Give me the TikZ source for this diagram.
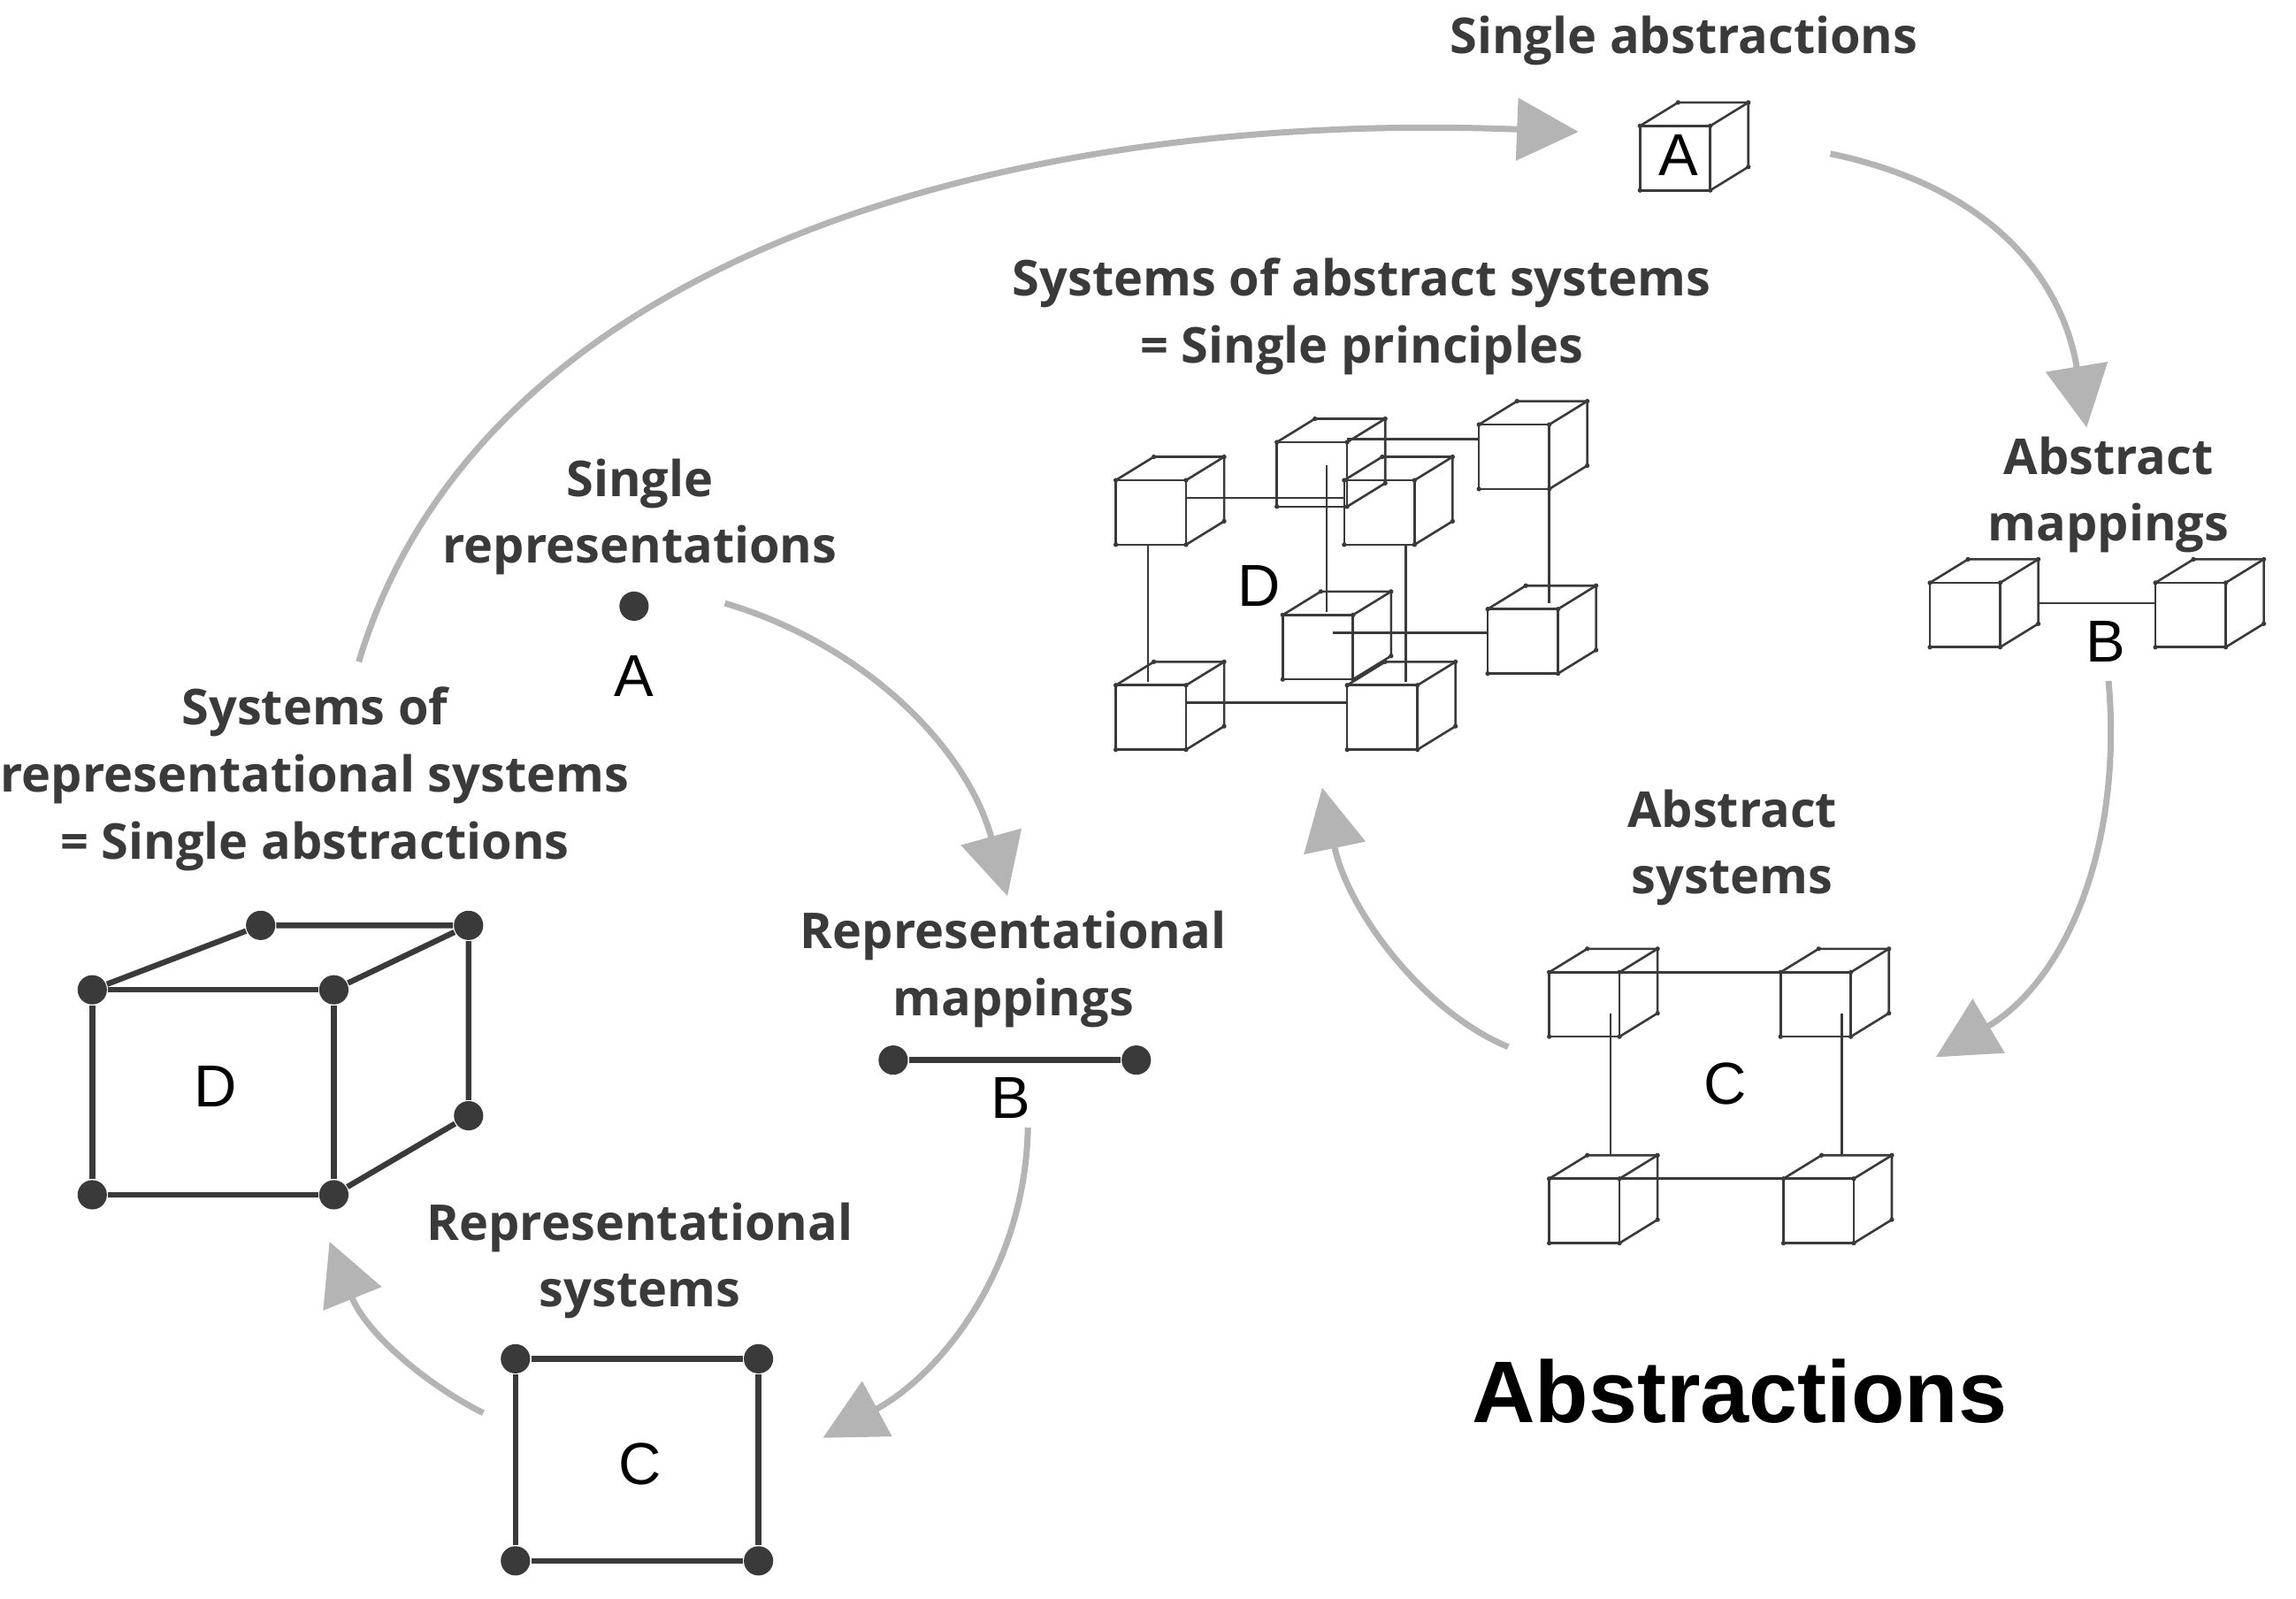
\documentclass[tikz,border=0pt]{standalone}
\usepackage{fontspec}
\setmainfont{Open Sans}
\newfontfamily\letterfont{Liberation Sans}
\usetikzlibrary{arrows.meta}
\definecolor{arr}{HTML}{B4B4B4}
\definecolor{ink}{HTML}{3A3A3A}
\begin{document}
\begin{tikzpicture}[x=0.01cm,y=-0.01cm,
  lbl/.style={font=\bfseries\fontsize{9.6}{13}\selectfont,align=center,text=ink,inner sep=0},
  let/.style={font=\letterfont\fontsize{11.5}{13}\selectfont,inner sep=0},
  big/.style={line width=1.1pt,ink},
  dot/.style={circle,fill=ink,inner sep=0,minimum size=0.2cm},
  thin/.style={line width=0.45pt,ink},
  flow/.style={arr,line width=1.2pt,-{Triangle[length=0.42cm,width=0.42cm]}},
  cube/.pic={
    \draw[thin] (0,0) rectangle (48,44);
    \draw[thin] (0,0)--(26,-16)--(74,-16)--(74,28)--(48,44);
    \draw[thin] (48,0)--(74,-16);
    \foreach \p in {(0,0),(48,0),(48,44),(0,44),(26,-16),(74,-16),(74,28)}
      \fill[ink] \p circle (1.6);
  }]
\useasboundingbox (0,0) rectangle (1568,1092);
% ---------- left: representations
\node[lbl] (t1) at (437,353) {Single\\representations};
\node[dot] (a1) at (433,414) {};
\node[let] (A1) at (433,462) {A};
\node[lbl] (t2) at (692,662) {Representational\\mappings};
\node[dot] (b1) at (610,724) {};
\node[dot] (b2) at (776,724) {};
\draw[big] (b1)--(b2);
\node[let] (B1) at (690,750) {B};
\node[lbl] (t3) at (437,861) {Representational\\systems};
\node[dot] (c1) at (352,928) {};
\node[dot] (c2) at (518,928) {};
\node[dot] (c3) at (518,1066) {};
\node[dot] (c4) at (352,1066) {};
\draw[big] (c1)--(c2)--(c3)--(c4)--(c1);
\node[let] (C1) at (437,1000) {C};
\node[lbl] (t4) at (215,532) {Systems of\\representational systems\\= Single abstractions};
\node[dot] (d1) at (63,676) {};
\node[dot] (d2) at (228,676) {};
\node[dot] (d3) at (228,816) {};
\node[dot] (d4) at (63,816) {};
\node[dot] (d5) at (178,632) {};
\node[dot] (d6) at (320,632) {};
\node[dot] (d7) at (320,762) {};
\draw[big] (d1)--(d2)--(d3)--(d4)--(d1);
\draw[big] (d1)--(d5)--(d6)--(d7)--(d3);
\draw[big] (d2)--(d6);
\node[let] (D1) at (147,742) {D};
% ---------- right: abstractions
\node[lbl] (s1) at (1150,28) {Single abstractions};
\pic at (1120,86) {cube};
\node[let] (A2) at (1146,106) {A};
\node[lbl] (s2) at (1440,338) {Abstract\\mappings};
\pic at (1318,398) {cube};
\pic at (1472,398) {cube};
\draw[thin] (1392,412)--(1472,412);
\node[let] (B2) at (1438,438) {B};
\node[lbl] (s3) at (1183,579) {Abstract\\systems};
\pic at (1058,664) {cube};
\pic at (1216,664) {cube};
\pic at (1058,805) {cube};
\pic at (1218,805) {cube};
\draw[thin] (1106,664)--(1216,664);
\draw[thin] (1106,805)--(1218,805);
\draw[thin] (1100,692)--(1100,789);
\draw[thin] (1258,692)--(1258,789);
\node[let] (C2) at (1178,740) {C};
\node[lbl] (s4) at (930,216) {Systems of abstract systems\\= Single principles};
\draw[thin] (810,340)--(918,340);
\draw[thin] (810,480)--(920,480);
\draw[thin] (784,372)--(784,466);
\draw[thin] (960,372)--(960,466);
\draw[thin] (920,300)--(1010,300);
\draw[thin] (910,432)--(1016,432);
\draw[thin] (906,318)--(906,418);
\draw[thin] (1058,318)--(1058,412);
\pic at (872,302) {cube};
\pic at (1010,290) {cube};
\pic at (876,420) {cube};
\pic at (1016,416) {cube};
\pic at (762,328) {cube};
\pic at (918,328) {cube};
\pic at (762,468) {cube};
\pic at (920,468) {cube};
\node[let] (D2) at (860,400) {D};
\node[font=\letterfont\bfseries\fontsize{17}{20}\selectfont,inner sep=0] (title) at (1188,950) {Abstractions};
% ---------- arrows
\coordinate (p0) at (245,452); \coordinate (p1) at (1078,90);
\draw[flow] (p0) .. controls (330,170) and (700,75) .. (p1);
\coordinate (q0) at (1250,105); \coordinate (q1) at (1425,292);
\draw[flow] (q0) .. controls (1370,130) and (1410,200) .. (q1);
\coordinate (r0) at (1440,465); \coordinate (r1) at (1322,722);
\draw[flow] (r0) .. controls (1450,580) and (1410,670) .. (r1);
\coordinate (u0) at (1030,715); \coordinate (u1) at (903,538);
\draw[flow] (u0) .. controls (970,690) and (920,620) .. (u1);
\coordinate (v0) at (495,412); \coordinate (v1) at (688,612);
\draw[flow] (v0) .. controls (590,440) and (660,510) .. (v1);
\coordinate (w0) at (702,770); \coordinate (w1) at (562,982);
\draw[flow] (w0) .. controls (700,870) and (640,940) .. (w1);
\coordinate (z0) at (330,965); \coordinate (z1) at (225,848);
\draw[flow] (z0) .. controls (290,945) and (250,910) .. (z1);
\end{tikzpicture}
\end{document}
